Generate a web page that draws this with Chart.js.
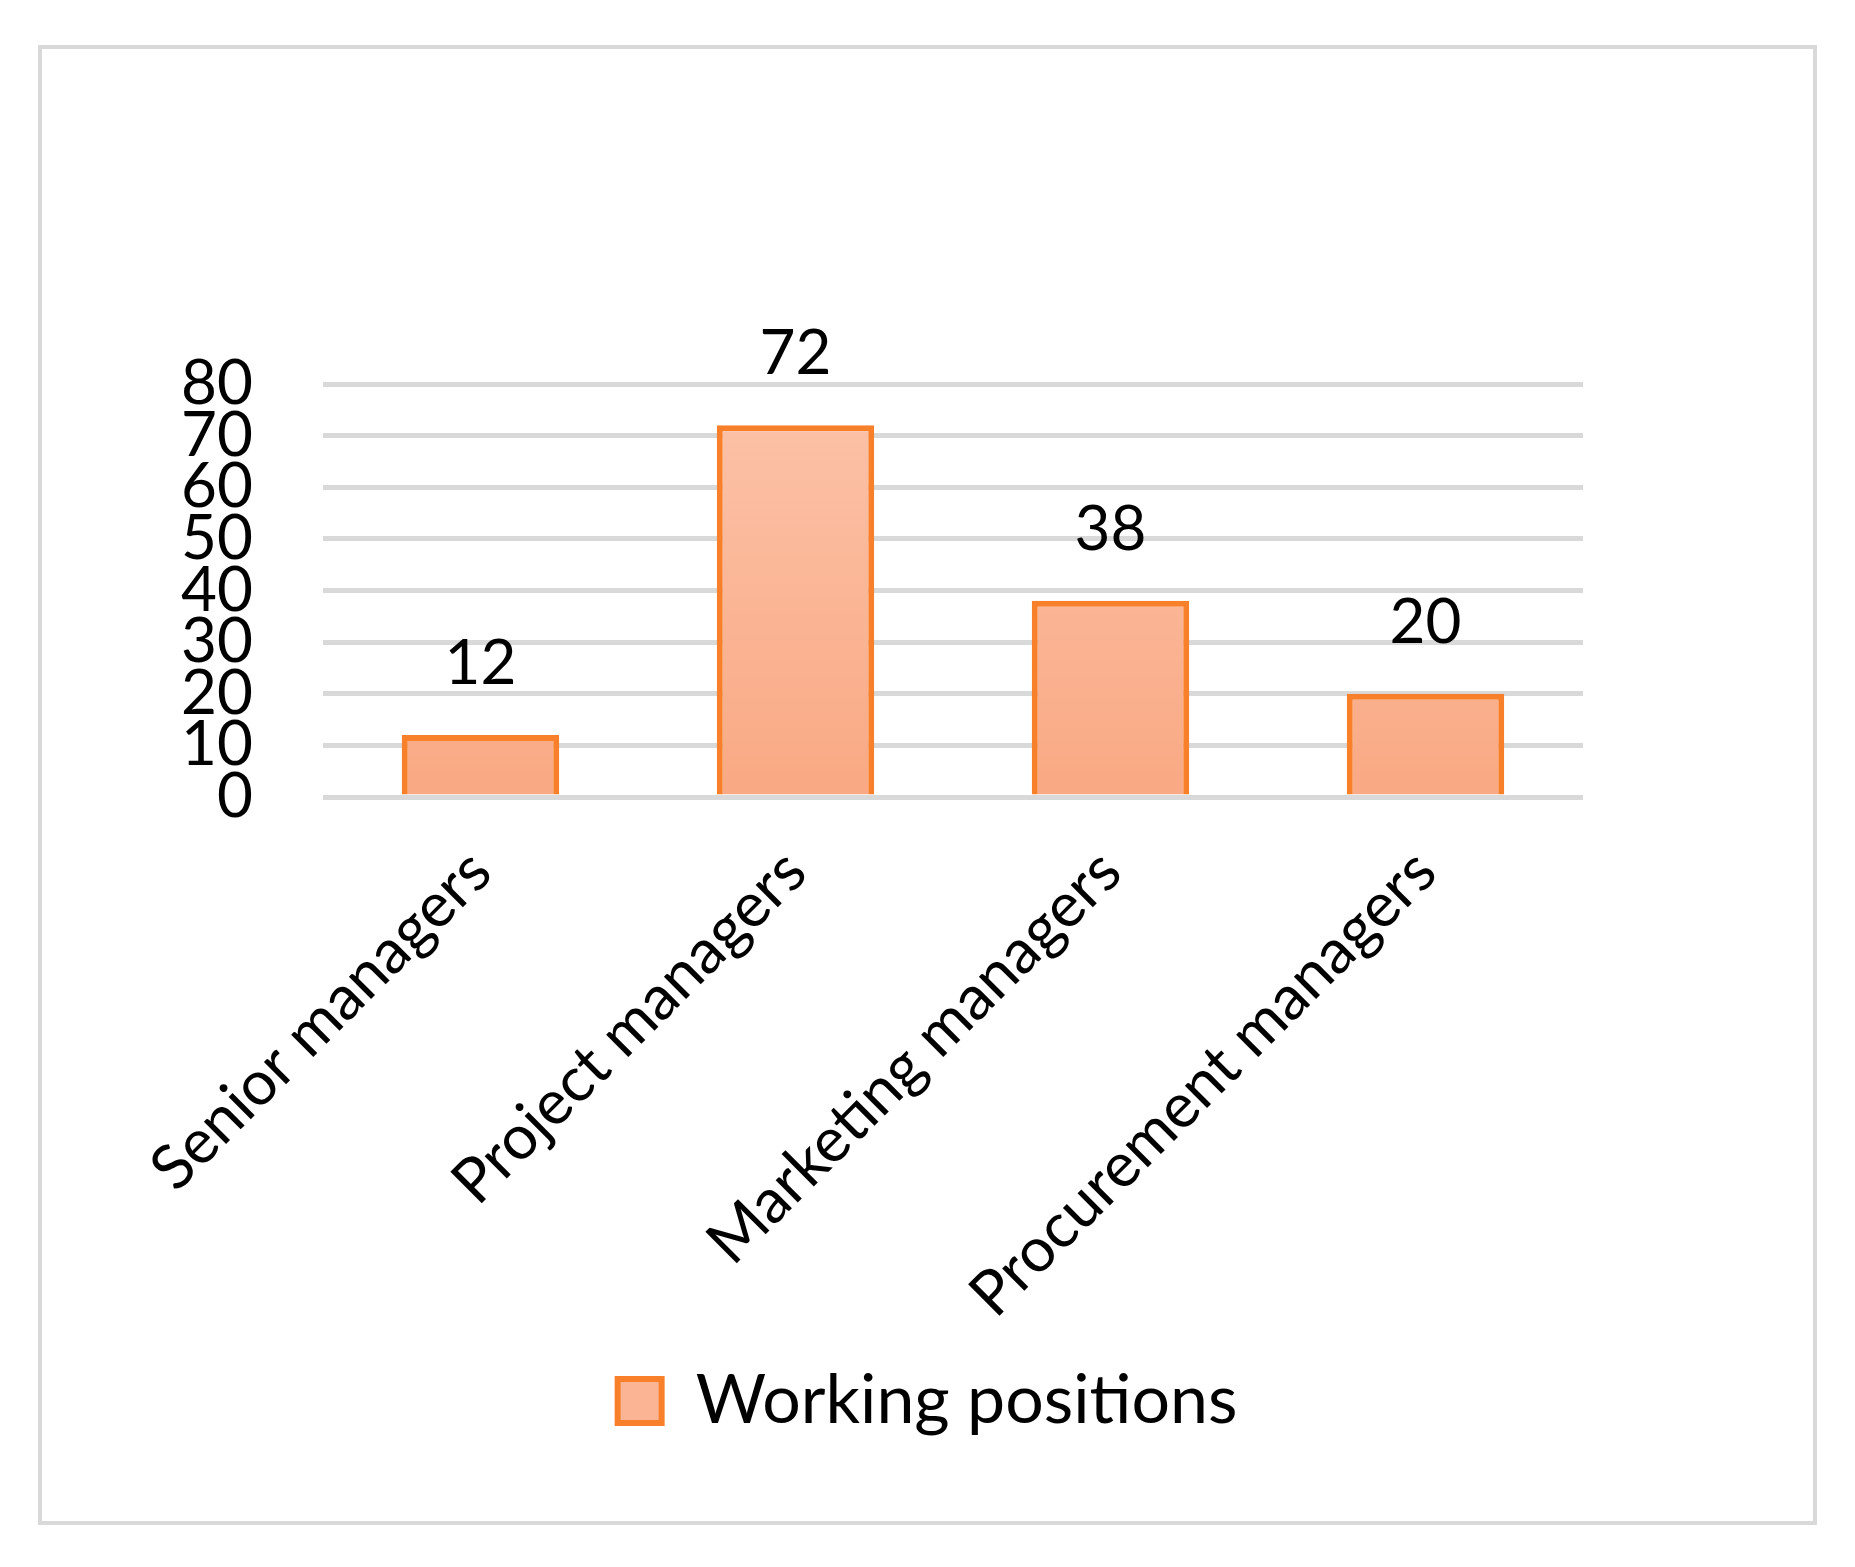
<!DOCTYPE html>
<html>
<head>
<meta charset="utf-8">
<script src="https://cdn.jsdelivr.net/npm/chart.js@4"></script>
<style>
  html, body { margin: 0; padding: 0; background: #fff; }
  #box {
    position: absolute; left: 38px; top: 45px; width: 1779px; height: 1480px;
    box-sizing: border-box; border: 4px solid #d9d9d9; background: #fff;
  }
</style>
</head>
<body>
<div id="box"><canvas id="c"></canvas></div>
<script>
const categories = ["Senior managers", "Project managers", "Marketing managers", "Procurement managers"];
const values = [12, 72, 38, 20];
const seriesName = "Working positions";
const yTicks = [0, 10, 20, 30, 40, 50, 60, 70, 80];

const FONT = "Lato, 'Open Sans', sans-serif";

function barFill(ctx) {
  const area = ctx.chart.chartArea;
  if (!area) return "#fbb89b";
  const g = ctx.chart.ctx.createLinearGradient(0, area.top, 0, area.bottom);
  g.addColorStop(0, "#fcc3aa");
  g.addColorStop(1, "#f9a983");
  return g;
}

const valueLabels = {
  id: "valueLabels",
  afterDatasetsDraw(chart) {
    const ctx = chart.ctx;
    const meta = chart.getDatasetMeta(0);
    ctx.save();
    ctx.font = `62px ${FONT}`;
    ctx.fillStyle = "#000";
    ctx.textAlign = "center";
    ctx.textBaseline = "bottom";
    meta.data.forEach((bar, i) => {
      ctx.fillText(String(values[i]), bar.x, bar.y - 40);
    });
    ctx.restore();
  },
};

new Chart(document.getElementById("c"), {
  type: "bar",
  data: {
    labels: categories,
    datasets: [{
      label: seriesName,
      data: values,
      backgroundColor: barFill,
      borderColor: "#f8802a",
      borderWidth: 6,
      borderSkipped: "bottom",
      barPercentage: 0.5,
      categoryPercentage: 1,
    }],
  },
  options: {
    responsive: true,
    maintainAspectRatio: false,
    animation: false,
    layout: { padding: { top: 335, right: 0, bottom: 76, left: 0 } },
    plugins: {
      legend: {
        position: "bottom",
        labels: {
          color: "#000",
          font: { family: FONT, size: 68 },
          boxWidth: 44,
          boxHeight: 44,
          padding: 10,
          generateLabels: () => [{
            text: seriesName,
            fillStyle: "#fbb595",
            strokeStyle: "#f8802a",
            lineWidth: 6,
            datasetIndex: 0,
          }],
        },
      },
      tooltip: { enabled: false },
    },
    scales: {
      y: {
        min: 0,
        max: 80,
        afterBuildTicks: (s) => { s.ticks = yTicks.map((v) => ({ value: v })); },
        afterFit: (s) => { s.width = 281; },
        border: { display: false },
        grid: { color: "#d9d9d9", lineWidth: 5, drawTicks: false },
        ticks: { color: "#000", font: { family: FONT, size: 62 }, padding: 70, autoSkip: false },
      },
      yRight: {
        position: "right",
        min: 0,
        max: 80,
        afterFit: (s) => { s.width = 230; },
        border: { display: false },
        grid: { display: false },
        ticks: { display: false },
      },
      x: {
        afterFit: (s) => { s.height = 560; },
        border: { display: false },
        grid: { display: false },
        ticks: {
          color: "#000",
          font: { family: FONT, size: 62 },
          maxRotation: 45,
          minRotation: 45,
          padding: 30,
          autoSkip: false,
        },
      },
    },
  },
  plugins: [valueLabels],
});
</script>
</body>
</html>
